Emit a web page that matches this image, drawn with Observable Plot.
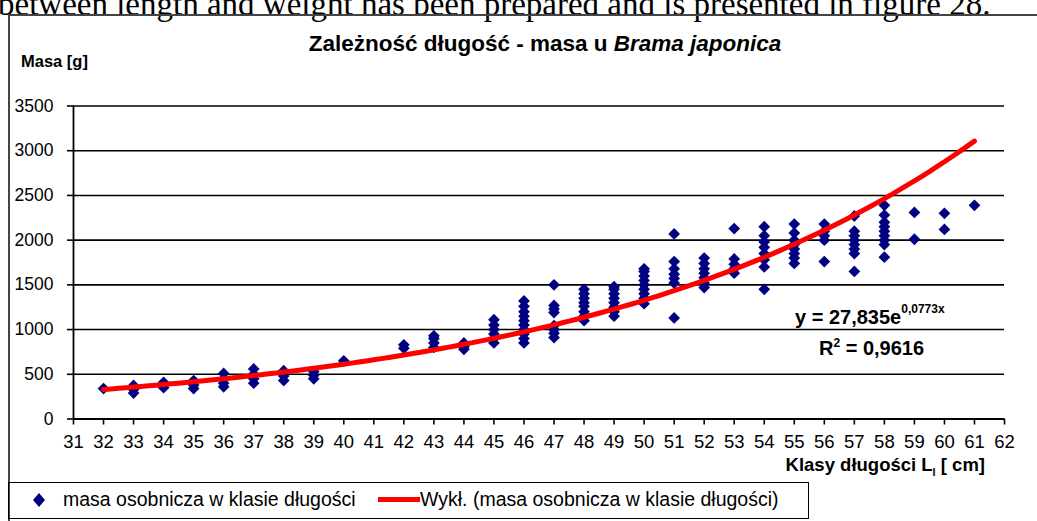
<!DOCTYPE html>
<html>
<head>
<meta charset="utf-8">
<script src="https://cdn.jsdelivr.net/npm/d3@7"></script>
<script src="https://cdn.jsdelivr.net/npm/@observablehq/plot@0.6"></script>
<style>
  html, body { margin: 0; padding: 0; background: #fff; overflow: hidden; }
  #page { position: relative; width: 1037px; height: 521px; overflow: hidden; font-family: "Liberation Sans", Arial, sans-serif; color: #000; }
  .abs { position: absolute; white-space: nowrap; }
  #frame { position: absolute; left: 8px; top: 14px; width: 1100px; height: 600px; border-left: 2px solid #444; border-top: 2px solid #444; box-sizing: border-box; }
  #chart { position: absolute; left: 0; top: 0; }
  #legend { position: absolute; left: 8px; top: 482px; width: 801px; height: 37px; border: 1.5px solid #000; box-sizing: border-box; font-size: 19.5px; }
  .eq { font-weight: bold; font-size: 20px; }
</style>
</head>
<body>
<div id="page">
  <div class="abs" style="left:-2px; top:-12px; font-family:'Liberation Serif', serif; font-size:33px; line-height:33px;">between length and weight has been prepared and is presented in figure 28.</div>
  <div id="frame"></div>
  <div id="chart"></div>
  <div class="abs" style="left:0; width:1090px; text-align:center; top:31px; font-size:22.5px; font-weight:bold;">Zależność długość - masa u <i>Brama japonica</i></div>
  <div class="abs" style="left:21px; top:52px; font-size:16.5px; font-weight:bold;">Masa [g]</div>
  <div class="abs" style="right:52px; top:454px; font-size:18.5px; font-weight:bold;">Klasy długości L<sub style="font-size:11px;">l</sub> [ cm]</div>
  <div class="abs eq" style="left:795px; top:305px;">y = 27,835e<sup style="font-size:12px; position:relative; top:-3px;">0,0773x</sup></div>
  <div class="abs eq" style="left:819px; top:336px;">R<sup style="font-size:12px;">2</sup> = 0,9616</div>
  <div id="legend">
    <svg class="abs" style="left:0; top:0;" width="800" height="36">
      <path d="M30,10 L36,17 L30,24 L24,17 Z" fill="#000080"></path>
      <line x1="369" y1="16.5" x2="411" y2="16.5" stroke="#ff0000" stroke-width="5"></line>
    </svg>
    <div class="abs" style="left:54px; top:5px;">masa osobnicza w klasie długości</div>
    <div class="abs" style="left:411px; top:5px;">Wykł. (masa osobnicza w klasie długości)</div>
  </div>
</div>
<script>
// Length classes (cm) and the individual masses (g) observed in each class
const lengthClasses = [32, 33, 34, 35, 36, 37, 38, 39, 40, 42, 43, 44, 45, 46, 47, 48, 49, 50, 51, 52, 53, 54, 55, 56, 57, 58, 59, 60, 61];
const massesPerClass = [
  [340],
  [290, 330, 375],
  [350, 380, 410],
  [340, 380, 430],
  [360, 400, 450, 510],
  [400, 450, 500, 560],
  [430, 480, 540],
  [450, 490, 530],
  [650],
  [790, 830],
  [800, 850, 900, 930],
  [780, 810, 850],
  [850, 900, 950, 1000, 1050, 1110],
  [850, 900, 950, 1000, 1050, 1100, 1150, 1200, 1260, 1320],
  [910, 960, 1000, 1045, 1190, 1230, 1270, 1500],
  [1100, 1150, 1200, 1260, 1300, 1350, 1400, 1450],
  [1150, 1200, 1250, 1300, 1350, 1400, 1450, 1480],
  [1290, 1350, 1400, 1450, 1500, 1550, 1600, 1650, 1680],
  [1130, 1520, 1570, 1620, 1680, 1760, 2070],
  [1470, 1520, 1580, 1630, 1680, 1740, 1800],
  [1630, 1680, 1730, 1790, 2130],
  [1450, 1700, 1780, 1850, 1920, 1980, 2050, 2150],
  [1740, 1800, 1850, 1900, 1950, 2000, 2080, 2180],
  [1760, 2000, 2050, 2100, 2180],
  [1650, 1850, 1900, 1950, 2000, 2050, 2100, 2270],
  [1810, 1950, 2000, 2050, 2100, 2150, 2200, 2280, 2390],
  [2010, 2310],
  [2120, 2300],
  [2390]
];
// Axis ticks
const xTicks = d3.range(31, 63);
const yTicks = [0, 500, 1000, 1500, 2000, 2500, 3000, 3500];
// Exponential trendline shown on the chart: y = 27,835 e^(0,0773x), drawn over 32..61
const trendA = 27.835, trendB = 0.0773;
const trendRange = [32, 61];

const points = lengthClasses.flatMap((L, i) => massesPerClass[i].map(m => ({L, m})));
const trend = d3.range(trendRange[0], trendRange[1] + 0.001, 0.25).map(L => ({L, m: trendA * Math.exp(trendB * L)}));

const chart = Plot.plot({
  width: 1037,
  height: 521,
  marginLeft: 73,
  marginRight: 33,
  marginTop: 105.5,
  marginBottom: 102.5,
  style: {fontFamily: "Liberation Sans, Arial, sans-serif", fontSize: "19px", color: "#000", background: "transparent"},
  x: {domain: [31, 62]},
  y: {domain: [0, 3500]},
  marks: [
    Plot.gridY(yTicks, {stroke: "#000", strokeOpacity: 1, strokeWidth: 1.6}),
    Plot.axisY(yTicks, {tickSize: 6, tickPadding: 14, label: null, fontSize: 17.5, stroke: "#000", strokeWidth: 1.6, tickFormat: d => String(d)}),
    Plot.axisX(xTicks, {tickSize: 6, tickPadding: 10, label: null, fontSize: 18.5, stroke: "#000", strokeWidth: 1.6, tickFormat: d => String(d)}),
    Plot.ruleX([31], {stroke: "#000", strokeWidth: 1.8}),
    Plot.ruleY([0], {stroke: "#000", strokeWidth: 1.8}),
    Plot.dot(points, {x: "L", y: "m", symbol: "diamond2", r: 5.3, fill: "#000080", stroke: null}),
    Plot.line(trend, {x: "L", y: "m", stroke: "#ff0000", strokeWidth: 5})
  ]
});
document.getElementById("chart").appendChild(chart);
</script>
</body>
</html>
